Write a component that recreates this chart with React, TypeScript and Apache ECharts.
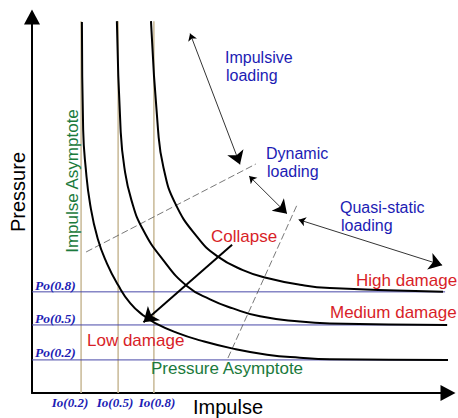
import React, { useEffect, useRef } from 'react';
import * as echarts from 'echarts';

// Data space: impulse 0..100 (x), pressure 0..100 (y)
const impulseAsymptotes = [11.8, 20.7, 29.3];
const impulseTickLabels = ['Io(0.2)', 'Io(0.5)', 'Io(0.8)'];
const pressureAsymptotes = [26.9, 18.1, 8.8];
const pressureTickLabels = ['Po(0.8)', 'Po(0.5)', 'Po(0.2)'];
const asymptoteTop = 98.9;
const asymptoteRight = 99.3;

const lowDamage = [
  [12.0, 98.7], [12.3, 70.0], [12.9, 60.0], [14.0, 50.0], [15.8, 41.0], [18.0, 34.5],
  [20.7, 28.7], [23.6, 23.9], [26.7, 20.7], [29.6, 18.6], [34.9, 16.0], [40.4, 14.0],
  [48.3, 11.8], [56.5, 10.2], [64.4, 9.4], [71.6, 9.0], [100, 8.8],
];
const mediumDamage = [
  [20.4, 98.9], [21.3, 70.0], [22.2, 60.0], [23.9, 51.3], [26.7, 43.4], [31.5, 35.4],
  [37.3, 28.4], [42.8, 24.9], [48.3, 22.5], [54.8, 20.4], [64.4, 19.0],
  [71.6, 18.5], [99.8, 18.1],
];
const highDamage = [
  [28.6, 98.9], [30.3, 70.0], [31.6, 60.0], [34.4, 50.5], [39.7, 41.5], [44.5, 36.4],
  [50.7, 32.7], [56.5, 30.6], [64.4, 28.8], [71.6, 27.9], [98.8, 26.9],
];

const impulsiveArrow = [[38.0, 95.6], [50.0, 60.8]];
const dynamicArrow = [[52.2, 57.7], [61.3, 47.7]];
const quasiStaticArrow = [[64.1, 46.1], [98.6, 34.0]];
const collapseArrow = [[48.1, 39.4], [26.8, 18.8]];
const regimeBoundary1 = [[13.0, 37.5], [53.8, 60.9]];
const regimeBoundary2 = [[47.1, 9.3], [63.7, 50.0]];

const BLUE = '#1c1cb4';
const RED = '#d81e28';
const GREEN = '#1b7a3c';
const SANS = '"Liberation Sans", Arial, sans-serif';
const SERIF = '"Liberation Serif", "Times New Roman", serif';

function seg(data: number[][], color: string, width: number, type: any, z: number) {
  return {
    type: 'line',
    data,
    symbol: 'none',
    showSymbol: false,
    silent: true,
    smooth: false,
    lineStyle: { color, width, type },
    emphasis: { disabled: true },
    z,
  };
}

function curve(data: number[][]) {
  return {
    type: 'line',
    data,
    symbol: 'none',
    showSymbol: false,
    silent: true,
    smooth: 0.5,
    lineStyle: { color: '#000', width: 2 },
    emphasis: { disabled: true },
    z: 4,
  };
}

function arrow(coords: number[][], both: boolean, width: number, size: number[]) {
  return {
    type: 'lines',
    coordinateSystem: 'cartesian2d',
    silent: true,
    symbol: both ? ['arrow', 'arrow'] : ['none', 'arrow'],
    symbolSize: size,
    lineStyle: { color: '#000', width, opacity: 1, curveness: 0 },
    data: [{ coords }],
    z: 5,
  };
}

function txt(text: string, x: number, y: number, font: string, fill: string, align = 'left', rotation = 0) {
  return {
    type: 'text',
    x,
    y,
    rotation,
    silent: true,
    z: 10,
    style: {
      text,
      font,
      fill,
      align,
      textAlign: align,
      verticalAlign: 'middle',
      textVerticalAlign: 'middle',
    },
  };
}

export default function App() {
  const ref = useRef<HTMLDivElement>(null);
  useEffect(() => {
    const chart = echarts.init(ref.current!, null, { renderer: 'svg' });
    const series: any[] = [];
    impulseAsymptotes.forEach((v) => series.push(seg([[v, 0], [v, asymptoteTop]], '#c8b996', 1.5, 'solid', 1)));
    pressureAsymptotes.forEach((v) => series.push(seg([[0, v], [asymptoteRight, v]], '#4848a8', 1, 'solid', 1)));
    series.push(seg(regimeBoundary1, '#555', 0.8, [7, 3], 2));
    series.push(seg(regimeBoundary2, '#555', 0.8, [7, 3], 2));
    series.push(curve(lowDamage), curve(mediumDamage), curve(highDamage));
    series.push(arrow(impulsiveArrow, true, 0.8, [7, 13]));
    series.push(arrow(dynamicArrow, true, 0.8, [7, 13]));
    series.push(arrow(quasiStaticArrow, true, 0.8, [7, 13]));
    series.push(arrow(collapseArrow, false, 2, [12, 14]));

    const ioX = [70, 115, 157];
    const poY = [285, 318, 352];
    const loadFont = `16px ${SANS}`;
    const graphics: any[] = [
      txt('Pressure', 18, 192, `20px ${SANS}`, '#000', 'center', Math.PI / 2),
      txt('Impulse', 228, 407, `20px ${SANS}`, '#000', 'center'),
      txt('Impulse Asymptote', 72, 181, `17px ${SANS}`, GREEN, 'center', Math.PI / 2),
      txt('Pressure Asymptote', 227, 368, `17px ${SANS}`, GREEN, 'center'),
      txt('Low damage', 87, 340, `17px ${SANS}`, RED),
      txt('Collapse', 211, 236, `17px ${SANS}`, RED),
      txt('High damage', 356, 280, `17px ${SANS}`, RED),
      txt('Medium damage', 330, 312, `17px ${SANS}`, RED),
      txt('Impulsive', 225, 57.5, loadFont, BLUE),
      txt('loading', 226, 75.5, loadFont, BLUE),
      txt('Dynamic', 266, 153, loadFont, BLUE),
      txt('loading', 267, 171, loadFont, BLUE),
      txt('Quasi-static', 340, 207, loadFont, BLUE),
      txt('loading', 341, 225, loadFont, BLUE),
    ];
    impulseTickLabels.forEach((t, i) => graphics.push(txt(t, ioX[i], 402, `italic bold 13px ${SERIF}`, BLUE, 'center')));
    pressureTickLabels.forEach((t, i) => graphics.push(txt(t, 35, poY[i], `italic bold 13.5px ${SERIF}`, BLUE)));

    const axisCommon = {
      type: 'value',
      min: 0,
      max: 100,
      axisLabel: { show: false },
      axisTick: { show: false },
      splitLine: { show: false },
      axisLine: {
        show: true,
        symbol: ['none', 'triangle'],
        symbolSize: [16, 15],
        lineStyle: { color: '#000', width: 2 },
      },
    };

    chart.setOption({
      animation: false,
      backgroundColor: '#fff',
      grid: { left: 32, right: 10, top: 17, bottom: 25, containLabel: false },
      xAxis: axisCommon,
      yAxis: axisCommon,
      series,
      graphic: graphics,
    });
    return () => chart.dispose();
  }, []);
  return (
    <div
      ref={ref}
      style={{ position: 'absolute', left: 0, top: 0, width: 458, height: 418, background: '#fff' }}
    />
  );
}
